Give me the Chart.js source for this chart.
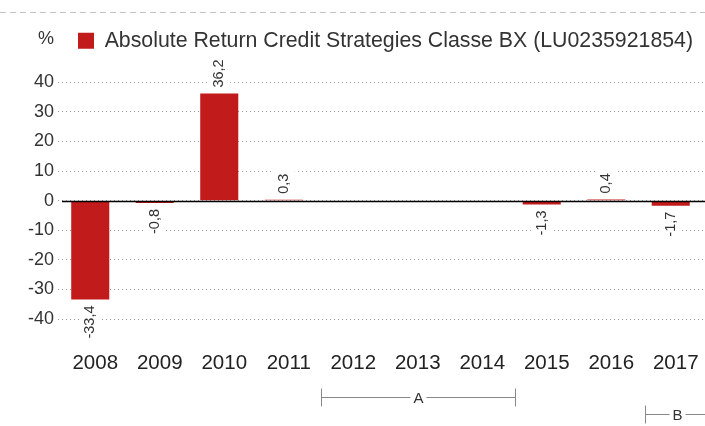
<!DOCTYPE html>
<html>
<head>
<meta charset="utf-8">
<script src="https://cdn.jsdelivr.net/npm/chart.js@4.4.0/dist/chart.umd.min.js"></script>
<style>
html,body{margin:0;padding:0;background:#fff;}
#wrap{width:705px;height:426px;position:relative;}
</style>
</head>
<body>
<div id="wrap"><canvas id="c" width="705" height="426"></canvas></div>
<script>
const categories = ['2008','2009','2010','2011','2012','2013','2014','2015','2016','2017'];
const seriesName = 'Absolute Return Credit Strategies Classe BX (LU0235921854)';
const seriesValues = [-33.4, -0.8, 36.2, 0.3, null, null, null, -1.3, 0.4, -1.7];
const yTicks = [-40, -30, -20, -10, 0, 10, 20, 30, 40];
const unitLabel = '%';
const periodLabels = ['A', 'B'];
const periodSpans = [[3.58, 6.59], [8.6, 9.6]];
const periodOpenRight = [false, true];

const FONT = "'Liberation Sans', Arial, Helvetica, sans-serif";
const RED = '#c21b1b';

const extras = {
  id: 'extras',
  beforeInit(chart) {
    const lg = chart.legend;
    if (lg) {
      const fit = lg.fit;
      lg.fit = function () { fit.call(this); this.height += 21; };
      const draw = lg.draw;
      lg.draw = function () {
        const c = this.ctx || chart.ctx;
        c.save(); c.translate(5, 0); draw.call(this); c.restore();
      };
    }
  },
  beforeDraw(chart) {
    const ctx = chart.ctx;
    ctx.save();
    ctx.strokeStyle = '#c4c4c4';
    ctx.lineWidth = 1;
    ctx.setLineDash([6, 4]);
    ctx.beginPath();
    ctx.moveTo(0, 12.5);
    ctx.lineTo(chart.width, 12.5);
    ctx.stroke();
    ctx.restore();
  },
  afterDatasetsDraw(chart) {
    const ctx = chart.ctx;
    const x = chart.scales.x, y = chart.scales.y;
    const area = chart.chartArea;
    ctx.save();
    // zero line
    const y0 = Math.round(y.getPixelForValue(0)) + 0.5;
    ctx.strokeStyle = '#000';
    ctx.lineWidth = 1.3;
    ctx.beginPath();
    ctx.moveTo(area.left + 4, y0);
    ctx.lineTo(chart.width, y0);
    ctx.stroke();

    // data labels
    const meta = chart.getDatasetMeta(0);
    ctx.font = '14.5px ' + FONT;
    ctx.textBaseline = 'middle';
    meta.data.forEach((bar, i) => {
      const v = seriesValues[i];
      if (v === null || v === undefined) return;
      const txt = String(v).replace('.', ',');
      const w = ctx.measureText(txt).width;
      const gap = 6;
      ctx.save();
      ctx.translate(bar.x, v >= 0 ? bar.y - gap : bar.y + gap);
      ctx.rotate(-Math.PI / 2);
      let x0 = v >= 0 ? 0 : -w;
      ctx.fillStyle = '#fff';
      ctx.fillRect(x0 - 3, -11, w + 6, 22);
      ctx.fillStyle = '#333';
      ctx.textAlign = 'left';
      ctx.fillText(txt, x0, 0);
      ctx.restore();
    });

    // unit label
    ctx.fillStyle = '#333';
    ctx.font = '18px ' + FONT;
    ctx.textAlign = 'center';
    ctx.textBaseline = 'middle';
    ctx.fillText(unitLabel, 46, 39);

    // period annotations
    const step = x.getPixelForValue(1) - x.getPixelForValue(0);
    const base = x.getPixelForValue(0);
    ctx.strokeStyle = '#888';
    ctx.lineWidth = 1;
    ctx.font = '15px ' + FONT;
    ctx.fillStyle = '#333';
    const rows = [397.5, 414.5];
    periodSpans.forEach((sp, k) => {
      const open = periodOpenRight[k];
      const xl = Math.round(base + sp[0] * step) + 0.5;
      const xr = open ? chart.width : base + sp[1] * step;
      const yy = rows[k];
      const cx = open ? xl + 32 : (xl + xr) / 2;
      const tw = ctx.measureText(periodLabels[k]).width;
      ctx.beginPath();
      ctx.moveTo(xl, yy - 9); ctx.lineTo(xl, yy + 9);
      ctx.moveTo(xl, yy); ctx.lineTo(cx - tw / 2 - 3, yy);
      ctx.moveTo(cx + tw / 2 + 3, yy); ctx.lineTo(xr, yy);
      if (!open) { const xr2 = Math.round(xr) + 0.5; ctx.moveTo(xr2, yy - 9); ctx.lineTo(xr2, yy + 9); }
      ctx.stroke();
      ctx.fillText(periodLabels[k], cx, yy + 1);
    });
    ctx.restore();
  }
};

new Chart(document.getElementById('c'), {
  type: 'bar',
  data: {
    labels: categories,
    datasets: [{
      label: seriesName,
      data: seriesValues,
      backgroundColor: RED,
      borderWidth: 0,
      categoryPercentage: 1,
      barPercentage: 0.59
    }]
  },
  options: {
    responsive: false,
    animation: false,
    devicePixelRatio: 1,
    layout: { padding: { left: 0, right: 2, top: 20, bottom: 0 } },
    plugins: {
      legend: {
        display: true,
        position: 'top',
        fullSize: false,
        labels: {
          font: { family: FONT, size: 21.3 },
          color: '#333',
          boxWidth: 16,
          boxHeight: 16,
          padding: 10
        }
      },
      tooltip: { enabled: false }
    },
    scales: {
      x: {
        grid: { display: false },
        border: { display: false },
        ticks: { font: { family: FONT, size: 20.5 }, color: '#222', padding: 24, maxRotation: 0, labelOffset: 5 },
        afterFit(s) { s.height = 107; s.paddingLeft = 0; s.paddingRight = 0; }
      },
      y: {
        min: -40, max: 40,
        afterBuildTicks(s) { s.ticks = yTicks.map(v => ({ value: v })); },
        grid: { color: '#9a9a9a', lineWidth: 1, drawTicks: false },
        border: { display: false, dash: [1, 3] },
        ticks: { font: { family: FONT, size: 18 }, color: '#333', padding: 4 },
        afterFit(s) { s.width = 58; s.paddingTop = 0; s.paddingBottom = 0; }
      }
    }
  },
  plugins: [extras]
});
</script>
</body>
</html>
